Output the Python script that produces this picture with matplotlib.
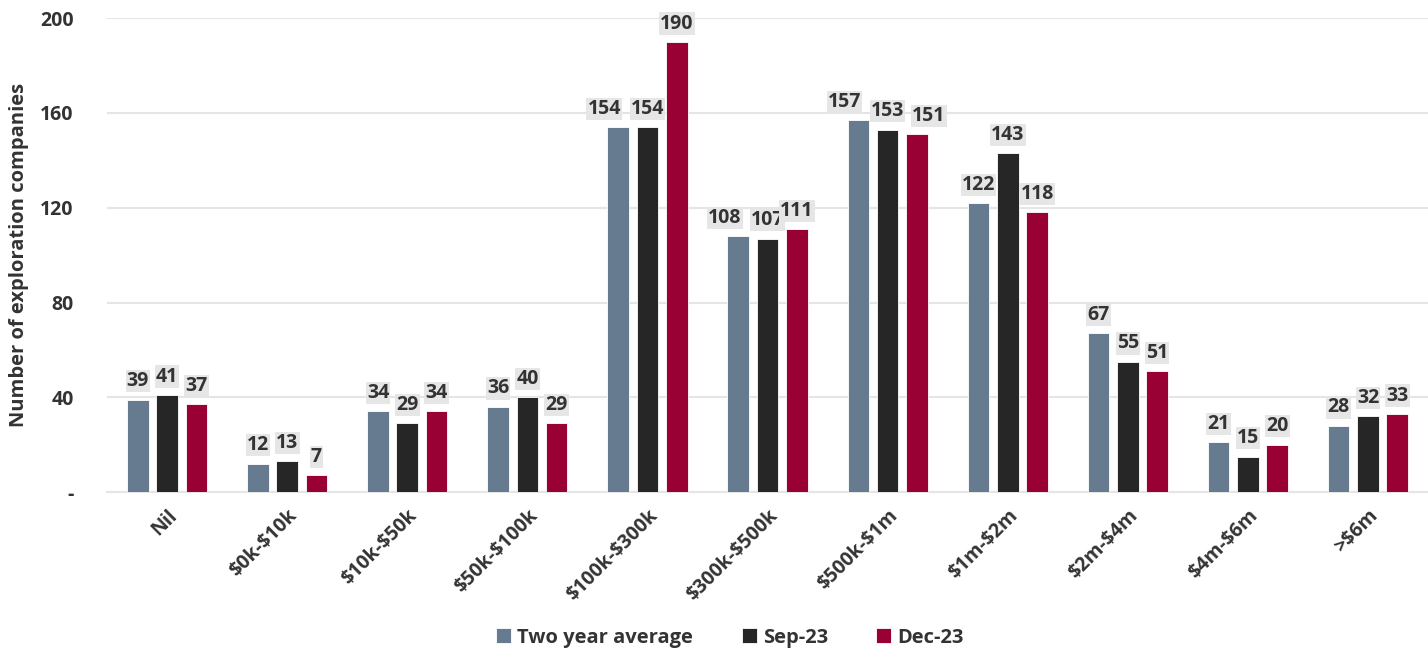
import numpy as np
import matplotlib
matplotlib.use("Agg")
import matplotlib.pyplot as plt

plt.rcParams['font.family'] = ['Open Sans', 'DejaVu Sans']
plt.rcParams['text.parse_math'] = False

categories = ["Nil", "$0k-$10k", "$10k-$50k", "$50k-$100k", "$100k-$300k",
              "$300k-$500k", "$500k-$1m", "$1m-$2m", "$2m-$4m", "$4m-$6m", ">$6m"]
two_year_avg = [39, 12, 34, 36, 154, 108, 157, 122, 67, 21, 28]
sep_23 = [41, 13, 29, 40, 154, 107, 153, 143, 55, 15, 32]
dec_23 = [37, 7, 34, 29, 190, 111, 151, 118, 51, 20, 33]

series = [("Two year average", two_year_avg, "#667B8F"),
          ("Sep-23", sep_23, "#262626"),
          ("Dec-23", dec_23, "#990033")]

# sideways nudge (points) for value labels that would collide: (series, category)
label_shift = {(0, 4): -10, (0, 5): -9.5, (0, 6): -10, (2, 6): 8.5}

TXT = "#333333"

fig = plt.figure(figsize=(14.28, 6.5), dpi=100)
ax = fig.add_axes([0.075, 0.243, 0.925, 0.729])

x = np.arange(len(categories))
width = 0.18
step = 0.244
for i, (name, vals, col) in enumerate(series):
    pos = x + (i - 1) * step
    bars = ax.bar(pos, vals, width, color=col, label=name, zorder=3,
                  edgecolor="white", linewidth=0.6)
    for j, (b, v) in enumerate(zip(bars, vals)):
        dx = label_shift.get((i, j), 0)
        ax.annotate(str(v), (b.get_x() + b.get_width() / 2, v),
                    xytext=(dx, 6), textcoords="offset points",
                    ha="center", va="bottom", fontsize=14, fontweight="bold",
                    color=TXT, zorder=4,
                    bbox=dict(boxstyle="square,pad=0.06", fc="#E6E6E6", ec="none"))

ax.set_xlim(-0.5, len(categories) - 0.5)
ax.set_ylim(0, 200)
ax.set_yticks([0, 40, 80, 120, 160, 200])
ax.set_yticklabels(["-", "40", "80", "120", "160", "200"])
ax.set_xticks(x)
ax.set_xticklabels(categories, rotation=45, ha="right", rotation_mode="anchor")
ax.tick_params(axis="both", length=0, labelsize=14, labelcolor=TXT)
ax.tick_params(axis="y", pad=24)
ax.tick_params(axis="x", pad=10)
for lab in ax.get_xticklabels() + ax.get_yticklabels():
    lab.set_fontweight("bold")

ax.grid(axis="y", color="#E5E5E5", linewidth=1.5, zorder=0)
for s in ["top", "right", "left"]:
    ax.spines[s].set_visible(False)
ax.spines["bottom"].set_color("#E5E5E5")
ax.spines["bottom"].set_linewidth(1.5)

ax.set_ylabel("Number of exploration companies", fontsize=14.5, fontweight="bold",
              color=TXT)
ax.yaxis.set_label_coords(-0.059, 0.5)

ax.legend(loc="center", bbox_to_anchor=(0.4716, -0.307), ncol=3, frameon=False,
          prop={"size": 14.5, "weight": "bold"}, handlelength=0.75, handleheight=0.75,
          columnspacing=2.4, handletextpad=0.3, labelcolor=TXT)

fig.savefig("out.png", dpi=100)
